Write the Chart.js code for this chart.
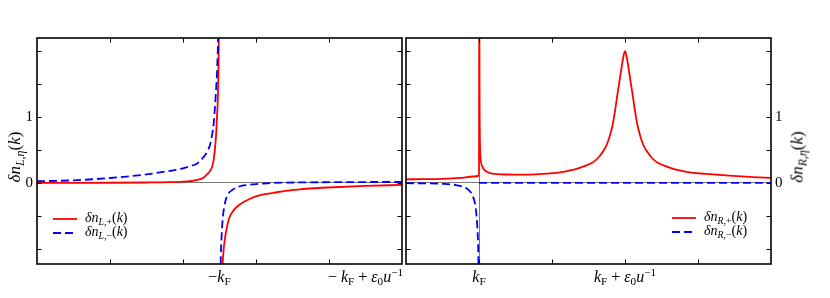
<!DOCTYPE html>
<html><head><meta charset="utf-8">
<script src="https://cdn.jsdelivr.net/npm/chart.js@4"></script>
<style>
html,body{margin:0;padding:0;background:#fff;}
#wrap{position:relative;width:830px;height:298px;overflow:hidden;background:#fff;}
canvas{position:absolute;top:0;}
.m{position:absolute;font-family:"Liberation Serif","DejaVu Serif",serif;font-size:16px;color:#000;white-space:nowrap;line-height:1;}
.m i{font-style:italic;}
.m sub{font-size:70%;vertical-align:baseline;position:relative;top:0.3em;}
.m sup{font-size:70%;vertical-align:baseline;position:relative;top:-0.5em;}
.leg{font-size:14px;}
.ttl{font-size:17px;}
</style></head>
<body><div id="wrap">
<canvas id="cL" width="404" height="298" style="left:0"></canvas>
<canvas id="cR" width="426" height="298" style="left:404px"></canvas>
</div>
<script>
// ---------- DATA (x in tick units; -k_F / k_F at 0, k_F + e0/u at 2) ----------
// Left panel, k < -k_F
const xL_redNeg = [-2.5,-2.0,-1.5,-1.0,-0.7,-0.5,-0.4,-0.3,-0.22,-0.17,-0.13,-0.10,-0.08,-0.059,-0.045,-0.036,-0.025,-0.018,-0.01,-0.004];
const redL_neg  = [0.0,0.001,0.003,0.007,0.012,0.02,0.028,0.045,0.08,0.13,0.18,0.25,0.35,0.56,0.76,0.97,1.21,1.48,2.1,3.2];
const xL_blueNeg= [-2.5,-2.0,-1.5,-1.0,-0.7,-0.5,-0.4,-0.3,-0.22,-0.17,-0.13,-0.10,-0.08,-0.059,-0.045,-0.036,-0.025,-0.018,-0.01,-0.004];
const blueL_neg = [0.026,0.04,0.075,0.13,0.18,0.22,0.255,0.30,0.39,0.47,0.58,0.74,0.9,1.2,1.45,1.63,1.95,2.25,3.0,4.0];
// Left panel, k > -k_F
const xL_redPos  = [0.04,0.05,0.06,0.078,0.10,0.123,0.15,0.19,0.25,0.33,0.42,0.51,0.62,0.74,0.9,1.1,1.3,1.56,2.0,2.5];
const redL_pos   = [-1.3,-1.1,-0.97,-0.82,-0.68,-0.57,-0.49,-0.42,-0.35,-0.29,-0.24,-0.20,-0.17,-0.15,-0.12,-0.096,-0.08,-0.065,-0.045,-0.03];
const xL_bluePos = [0.012,0.019,0.026,0.033,0.045,0.064,0.08,0.10,0.13,0.17,0.22,0.28,0.36,0.47,0.6,0.74,1.1,1.6,2.0,2.5];
const blueL_pos  = [-1.6,-1.08,-0.88,-0.72,-0.53,-0.37,-0.28,-0.21,-0.15,-0.11,-0.075,-0.05,-0.033,-0.02,-0.008,0.0,0.008,0.012,0.014,0.015];
// Right panel
const xR_red = [-1.0,-0.75,-0.5,-0.26,-0.078,0.0,0.003,0.008,0.014,0.023,0.045,0.082,0.15,0.25,0.38,0.6,0.84,1.11,1.25,1.38,1.48,1.57,1.64,1.70,1.75,1.79,1.83,1.86,1.90,1.95,1.98,2.0,2.02,2.05,2.10,2.14,2.17,2.21,2.25,2.30,2.36,2.43,2.52,2.62,2.75,2.89,3.2,3.48,3.75,4.0];
const redR   = [0.055,0.058,0.063,0.076,0.098,0.112,3.0,1.2,0.56,0.36,0.25,0.19,0.15,0.135,0.128,0.125,0.135,0.16,0.19,0.23,0.27,0.32,0.39,0.48,0.58,0.71,0.88,1.07,1.37,1.73,1.93,2.0,1.93,1.73,1.37,1.07,0.88,0.71,0.58,0.48,0.39,0.32,0.27,0.23,0.19,0.16,0.13,0.107,0.09,0.076];
const xR_blueNeg = [-1.0,-0.75,-0.53,-0.305,-0.168,-0.13,-0.10,-0.075,-0.055,-0.042,-0.032,-0.025,-0.018,-0.01,-0.003];
const blueR_neg  = [-0.003,-0.006,-0.012,-0.035,-0.085,-0.12,-0.16,-0.23,-0.31,-0.41,-0.52,-0.63,-0.77,-1.03,-1.8];
const xR_bluePos = [0.0,1.0,2.0,3.0,4.0];
const blueR_pos  = [0,0,0,0,0];
// Tick labels
const yTickLabels = {0:'0', 1:'1'};
const xTickLabelsL = [{v:0, html:'−<i>k</i><sub>F</sub>'}, {v:2, html:'− <i>k</i><sub>F</sub> + <i>ε</i><sub>0</sub><i>u</i><sup>−1</sup>'}];
const xTickLabelsR = [{v:0, html:'<i>k</i><sub>F</sub>'}, {v:2, html:'<i>k</i><sub>F</sub> + <i>ε</i><sub>0</sub><i>u</i><sup>−1</sup>'}];
const legendL = ['<i>δn</i><sub><i>L</i>,+</sub>(<i>k</i>)', '<i>δn</i><sub><i>L</i>,−</sub>(<i>k</i>)'];
const legendR = ['<i>δn</i><sub><i>R</i>,+</sub>(<i>k</i>)', '<i>δn</i><sub><i>R</i>,−</sub>(<i>k</i>)'];
const titleL = '<i>δn</i><sub><i>L</i>,<i>η</i></sub>(<i>k</i>)';
const titleR = '<i>δn</i><sub><i>R</i>,<i>η</i></sub>(<i>k</i>)';

// ---------- helpers ----------
function pts(xs, ys){ return xs.map((x,i)=>({x:x, y:ys[i]})); }
function gap(a, b){ return a.concat([{x:(a[a.length-1].x+b[0].x)/2, y:null}], b); }

const RED='#ff0000', BLUE='#0000ff';
const wrap=document.getElementById('wrap');
function addHTML(cls, html, style){
  const d=document.createElement('div'); d.className='m '+cls; d.innerHTML=html;
  Object.assign(d.style, style); wrap.appendChild(d); return d;
}

const frameTicks = {
  id:'frameTicks',
  afterDraw(chart){
    const {ctx, chartArea:a, scales} = chart;
    const xs=scales.x, ys=scales.y, L=4.5;
    ctx.save();
    ctx.strokeStyle='#000'; ctx.lineWidth=1;
    ctx.beginPath();
    xs.ticks.forEach(t=>{
      if(t.value<=xs.min||t.value>=xs.max) return;
      const p=Math.round(xs.getPixelForValue(t.value))+0.5;
      ctx.moveTo(p,a.bottom); ctx.lineTo(p,a.bottom-L);
      ctx.moveTo(p,a.top); ctx.lineTo(p,a.top+L);
    });
    ys.ticks.forEach(t=>{
      if(t.value<=ys.min||t.value>=ys.max) return;
      const p=Math.round(ys.getPixelForValue(t.value))+0.5;
      ctx.moveTo(a.left,p); ctx.lineTo(a.left+L,p);
      ctx.moveTo(a.right,p); ctx.lineTo(a.right-L,p);
    });
    ctx.stroke();
    ctx.lineWidth=1.6;
    ctx.strokeRect(a.left,a.top,a.right-a.left,a.bottom-a.top);
    ctx.restore();
  }
};

function makeLabels(offset, labels){
  return {
    id:'htmlLabels',
    afterRender(chart){
      if(chart._lblDone) return; chart._lblDone=true;
      const xs=chart.scales.x, a=chart.chartArea;
      labels.forEach(l=>{
        const px=offset+xs.getPixelForValue(l.v);
        addHTML('', l.html, {left:px+'px', top:(a.bottom+5)+'px', transform:'translateX(-50%)'});
      });
    }
  };
}

function gridColor(c){ return c.tick && c.tick.value===0 ? '#555' : 'rgba(0,0,0,0)'; }

function opts(side, xmin, xmax, afterFitY, padding){
  return {
    responsive:false, animation:false, maintainAspectRatio:false,
    layout:{padding:padding},
    plugins:{legend:{display:false}, tooltip:{enabled:false}},
    elements:{point:{radius:0}},
    scales:{
      x:{type:'linear', min:xmin, max:xmax,
         ticks:{display:false, stepSize:1, includeBounds:false},
         grid:{color:gridColor, lineWidth:0.8, drawTicks:false},
         border:{display:false},
         afterFit:s=>{s.height=34;}},
      y:{type:'linear', position:side, min:-1.23, max:2.2,
         ticks:{stepSize:0.5, includeBounds:false, padding:4, color:'#000',
                font:{family:'"Liberation Serif", serif', size:15},
                callback:v=> (v in yTickLabels) ? yTickLabels[v] : ''},
         grid:{color:gridColor, lineWidth:0.8, drawTicks:false},
         border:{display:false},
         afterFit:afterFitY}
    }
  };
}

function ds(data, color, dashed){
  return {data:data, borderColor:color, backgroundColor:color, borderWidth:1.8,
          borderDash: dashed?[8,4]:[], cubicInterpolationMode:'monotone',
          spanGaps:false, clip:0, fill:false, pointRadius:0};
}

new Chart(document.getElementById('cL'), {
  type:'line',
  data:{datasets:[
    ds(gap(pts(xL_blueNeg,blueL_neg), pts(xL_bluePos,blueL_pos)), BLUE, true),
    ds(gap(pts(xL_redNeg,redL_neg), pts(xL_redPos,redL_pos)), RED, false)
  ]},
  options:opts('left', -2.5, 2.5, s=>{s.width=37;}, {top:38, right:2, left:0, bottom:0}),
  plugins:[frameTicks, makeLabels(0, xTickLabelsL)]
});

new Chart(document.getElementById('cR'), {
  type:'line',
  data:{datasets:[
    ds(gap(pts(xR_blueNeg,blueR_neg), pts(xR_bluePos,blueR_pos)), BLUE, true),
    ds(pts(xR_red,redR), RED, false)
  ]},
  options:opts('right', -1, 4, s=>{s.width=59;}, {top:38, right:0, left:2, bottom:0}),
  plugins:[frameTicks, makeLabels(404, xTickLabelsR)]
});

// Axis titles (rotated)
addHTML('ttl', titleL, {left:'14px', top:'157px', transform:'translate(-50%,-50%) rotate(-90deg)'});
addHTML('ttl', titleR, {left:'797px', top:'157px', transform:'translate(-50%,-50%) rotate(-90deg)'});

// Legends
function legend(x, y, items){
  const styles=[{c:RED, d:''}, {c:BLUE, d:'8,4'}];
  items.forEach((h,i)=>{
    const yy=y+i*14;
    addHTML('leg', '<svg width="24" height="6" style="vertical-align:middle;margin-right:8px"><line x1="0" y1="3" x2="24" y2="3" stroke="'+styles[i].c+'" stroke-width="1.8" stroke-dasharray="'+styles[i].d+'"/></svg>'+h,
      {left:x+'px', top:(yy-8)+'px'});
  });
}
legend(53, 219, legendL);
legend(672, 218, legendR);
</script>
</body></html>
